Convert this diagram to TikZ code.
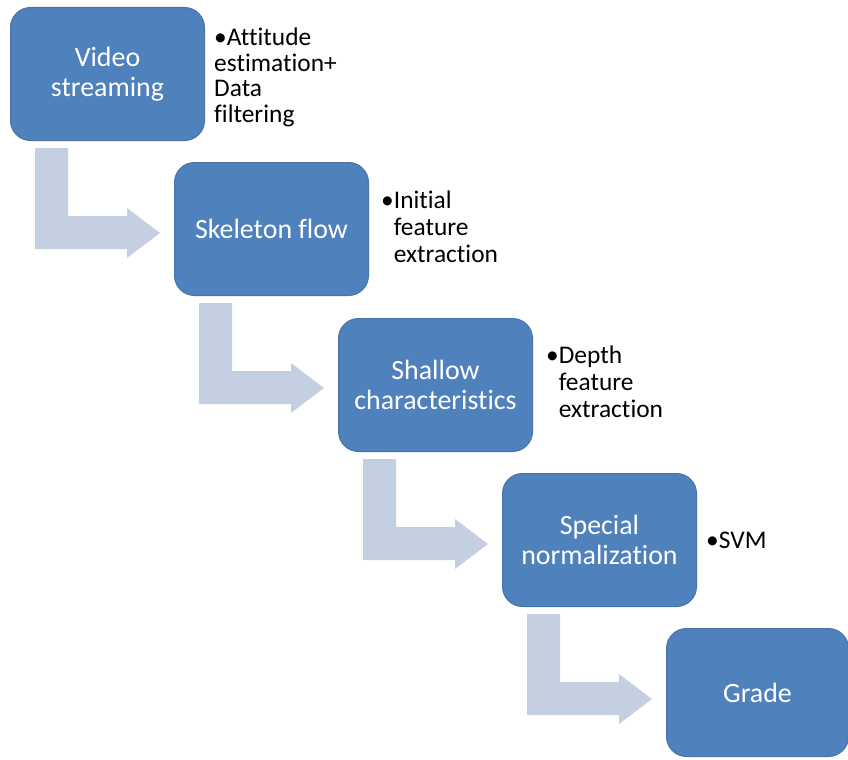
\documentclass[tikz,border=0pt]{standalone}
\usepackage{fontspec}
\setmainfont[Ligatures=CommonOff]{Carlito}
\definecolor{boxblue}{RGB}{79,129,189}
\definecolor{boxedge}{RGB}{70,116,170}
\definecolor{arrowfill}{RGB}{197,207,226}
\begin{document}
\begin{tikzpicture}[x=1bp,y=-1bp,
  stage/.style={draw=boxedge, line width=1bp, fill=boxblue,
    rounded corners=20bp, minimum width=194bp, minimum height=133bp,
    inner sep=0pt, text=white, align=center,
    font=\fontsize{28}{30}\selectfont, anchor=north west},
  note/.style={anchor=base west, inner sep=0pt,
    font=\fontsize{25.5}{27.5}\selectfont},
  bentarrow/.pic={
    \fill[arrowfill] (25,7) -- (58,7) -- (58,75) -- (117,75) -- (117,67)
      -- (150,92) -- (117,117) -- (117,108) -- (25,108) -- cycle;
  }]
\useasboundingbox (0,0) rectangle (848,760);

% process stages
\node[stage] (s1) at (10,7)    {Video\\streaming};
\node[stage] (s2) at (174,162) {Skeleton flow};
\node[stage] (s3) at (338,318) {Shallow\\characteristics};
\node[stage] (s4) at (502,473) {Special\\normalization};
\node[stage, minimum width=182bp, minimum height=128bp] (s5) at (666,628) {Grade};

% bent block arrows between consecutive stages
\pic at (s1.south west) {bentarrow};
\pic at (s2.south west) {bentarrow};
\pic at (s3.south west) {bentarrow};
\pic at (s4.south west) {bentarrow};

% side notes
\node[note, font=\fontsize{25.5}{25.5}\selectfont] (n1) at (214,46)
  {\begin{tabular}[t]{@{}l@{}}•Attitude\\estimation+\\Data\\filtering\end{tabular}};
\node[note] (n2) at (381,208)
  {\begin{tabular}[t]{@{}l@{}l@{}}•&Initial\\&feature\\&extraction\end{tabular}};
\node[note] (n3) at (546,363)
  {\begin{tabular}[t]{@{}l@{}l@{}}•&Depth\\&feature\\&extraction\end{tabular}};
\node[note] (n4) at (706,548) {•SVM};
\end{tikzpicture}
\end{document}
